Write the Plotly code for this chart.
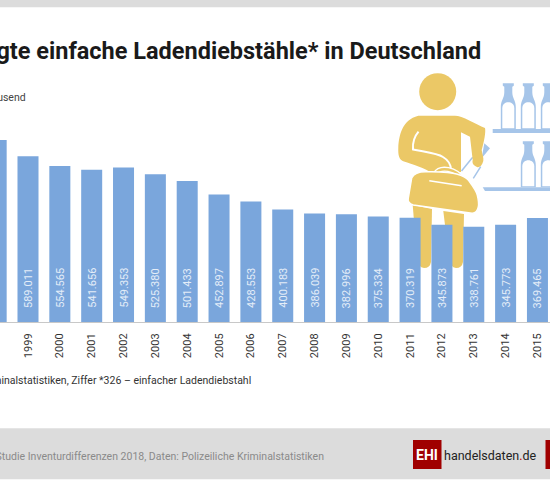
import re
import plotly.graph_objects as go

W = 550
H = 480

YEARS = [1998, 1999, 2000, 2001, 2002, 2003, 2004, 2005, 2006, 2007, 2008,
         2009, 2010, 2011, 2012, 2013, 2014, 2015]
CASES = [647000, 589011, 554565, 541656, 549353, 525380, 501433, 452897, 428553,
         400183, 386039, 382996, 375334, 370319, 345873, 338761, 345773, 369465]

TITLE = "Angezeigte einfache Ladendiebstähle* in Deutschland"
UNIT = "in Tausend"
NOTE = "* Polizeiliche Kriminalstatistiken, Ziffer *326 – einfacher Ladendiebstahl"
SOURCE = "Quelle: EHI-Studie Inventurdifferenzen 2018, Daten: Polizeiliche Kriminalstatistiken"

BAR_BLUE = "#7aa6dc"
LIGHT_BLUE = "#a6c5e9"
YELLOW = "#ebc866"
GREY = "#dcdcdc"
RED = "#a00000"


def to_paper(path):
    # pixel path (x y x y ...) -> paper coords
    nums = iter(range(10000))

    def conv(m):
        v = float(m.group(0))
        return f"{v / W:.5f}" if next(nums) % 2 == 0 else f"{1 - v / H:.5f}"

    return re.sub(r"-?\d+\.?\d*", conv, path)


def shape_path(path, fill=None, line=None, width=0):
    return dict(type="path", xref="paper", yref="paper", layer="below",
                path=to_paper(path),
                fillcolor=fill if fill else "rgba(0,0,0,0)",
                line=dict(color=line if line else "rgba(0,0,0,0)", width=width))


def rect(x0, y0, x1, y1, fill):
    return dict(type="rect", xref="paper", yref="paper", layer="below",
                x0=x0 / W, x1=x1 / W, y0=1 - y0 / H, y1=1 - y1 / H,
                fillcolor=fill, line=dict(width=0))


def bottle(cx, top):
    b = top + 46
    outer = (f"M {cx-5.5} {top} L {cx+5.5} {top} L {cx+5.5} {top+2.5} L {cx+4} {top+3.5} "
             f"L {cx+4} {top+9} C {cx+4} {top+15} {cx+7.5} {top+17} {cx+7.5} {top+24} "
             f"L {cx+7.5} {b} L {cx-7.5} {b} L {cx-7.5} {top+24} "
             f"C {cx-7.5} {top+17} {cx-4} {top+15} {cx-4} {top+9} L {cx-4} {top+3.5} "
             f"L {cx-5.5} {top+2.5} Z")
    inner = (f"M {cx-6} {top+25} C {cx-6} {top+21} {cx-3} {top+19} {cx} {top+19} "
             f"C {cx+3} {top+19} {cx+6} {top+21} {cx+6} {top+25} "
             f"L {cx+6} {b-1} L {cx-6} {b-1} Z")
    return [shape_path(outer, LIGHT_BLUE), shape_path(inner, "white")]


shapes = [
    rect(0, 0, W, 7.3, GREY),
    rect(0, 428.3, W, 479.3, GREY),
    rect(413, 440, 441.5, 469, RED),
    rect(545.5, 440, W, 469, RED),
    # shelves
    rect(492.7, 129, W, 133, LIGHT_BLUE),
    shape_path("M 482.7 187.3 L 550 187.3 L 550 191 L 485 191 Z", LIGHT_BLUE),
]
for cx, top in [(508.3, 83.3), (528.3, 83.3), (548.3, 83.3), (528.3, 141.3), (548.3, 141.3)]:
    shapes += bottle(cx, top)

shapes += [
    # stolen bottle behind the hand
    shape_path("M 484.3 143.3 L 490 148.3 L 481.7 158.3 Z", LIGHT_BLUE),
    shape_path("M 461.5 171 L 472.7 157.3", line=LIGHT_BLUE, width=1.5),
    shape_path("M 473.3 178.3 L 480.7 166.7", line=LIGHT_BLUE, width=1.5),
    # legs
    shape_path("M 412.7 205 L 432 209 L 431 262 Q 430 268 424 268 Q 418 268 417 258 Z", YELLOW),
    shape_path("M 443.3 211 L 464 214 L 463 262 Q 462 268 456 268 Q 450 268 449 258 Z", YELLOW),
    # torso and arms
    shape_path("M 418.3 115.7 L 455 115.7 C 462 115.7 476 124 485 128 "
               "C 486 132 484 142 481.7 150 C 482 154 484 158 483.3 161 "
               "C 482 166 479 168 477 167 C 473 165 472 163 472.7 160 "
               "L 470 136.7 L 461 132.3 L 461 172 L 445 172 "
               "C 445 177 438 178 433 174 C 425 168 412 164 404 161.5 "
               "C 399 160 398 155 398.3 148 C 399 135 402 120 418.3 115.7 Z", YELLOW),
    # white cuts
    shape_path("M 418.5 131.7 C 414 137 412.5 143 413 149.5 C 425 152 437 153 443 157 "
               "C 448 160 451 164 451 170", line="white", width=2),
    # bag handle and body
    shape_path("M 435 174 C 440 166 456 168 463 180", line="white", width=5),
    shape_path("M 435 174 C 440 166 456 168 463 180", line=YELLOW, width=2.5),
    shape_path("M 411.7 178 C 414 173 421 171.5 426.7 171.7 C 437 172 450 172 456.7 174 "
               "C 462 175.5 466 177 468.3 180 C 472 185 476 190 477.3 195 "
               "C 478.5 200 479 204 478.3 207 C 477.5 211 476 213.5 472 213.3 "
               "L 413.3 205 C 409 204 407.5 201 408.3 198 Z", YELLOW, "white", 1.5),
    shape_path("M 429.3 180.7 L 461.7 185.7", line="white", width=1.5),
]

# head
shapes.append(dict(type="circle", xref="paper", yref="paper", layer="below",
                   x0=419.2 / W, x1=456.2 / W, y0=1 - 110.2 / H, y1=1 - 73.2 / H,
                   fillcolor=YELLOW, line=dict(width=0)))

fig = go.Figure()
fig.add_trace(go.Bar(
    x=YEARS,
    y=CASES,
    width=0.66,
    marker=dict(color=BAR_BLUE, line=dict(width=0)),
    hoverinfo="skip",
))

annotations = [
    dict(text=f"<b>{TITLE}</b>", x=480.5 / W, y=1 - 51 / H, xanchor="right", yanchor="middle",
         font=dict(family="Roboto", size=23.5, color="#1a1a1a")),
    dict(text=UNIT, x=25.5 / W, y=1 - 98 / H, xanchor="right", yanchor="middle",
         font=dict(family="Roboto", size=10.5, color="#444444")),
    dict(text=NOTE, x=250.5 / W, y=1 - 380.5 / H, xanchor="right", yanchor="middle",
         font=dict(family="Roboto", size=10.5, color="#333333")),
    dict(text=SOURCE, x=323.5 / W, y=1 - 456 / H, xanchor="right", yanchor="middle",
         font=dict(family="Roboto", size=10.5, color="#8a8a8a")),
    dict(text="<b>EHI</b>", x=427.3 / W, y=1 - 455 / H, xanchor="center", yanchor="middle",
         font=dict(family="Roboto", size=14, color="white")),
    dict(text='handelsdaten<span style="color:#c00000">.</span>de',
         x=444 / W, y=1 - 455.5 / H, xanchor="left", yanchor="middle",
         font=dict(family="Roboto", size=12.5, color="#222222")),
]
for a in annotations:
    a.update(xref="paper", yref="paper", showarrow=False, borderpad=0, borderwidth=0)

# values inside the bars
for year, value in zip(YEARS, CASES):
    annotations.append(dict(
        text=f"{value:,}".replace(",", "."),
        x=year, y=0, xref="x", yref="y",
        yanchor="bottom", xanchor="center",
        yshift=13,
        textangle=-90,
        showarrow=False,
        borderpad=0,
        font=dict(family="Roboto", size=11, color="#e4edf8"),
    ))

fig.update_layout(
    width=W,
    height=H,
    margin=dict(l=0, r=0, t=0, b=0),
    paper_bgcolor="white",
    plot_bgcolor="rgba(0,0,0,0)",
    showlegend=False,
    shapes=shapes,
    annotations=annotations,
    xaxis=dict(
        domain=[0, 1],
        range=[1998.1206, 2015.394],
        tickmode="array",
        tickvals=YEARS,
        ticktext=[str(y) for y in YEARS],
        tickangle=-90,
        ticks="",
        ticklabelstandoff=6,
        tickfont=dict(family="Roboto", size=11, color="#333333"),
        showgrid=False,
        zeroline=False,
        showline=True,
        linecolor="#c8c8c8",
        linewidth=1,
    ),
    yaxis=dict(
        domain=[158 / H, 383 / H],
        range=[0, 800000],
        visible=False,
    ),
)

fig.write_html("out.html", config=dict(displayModeBar=False),
               post_script="document.body.style.margin='0';document.body.style.overflow='hidden';")
